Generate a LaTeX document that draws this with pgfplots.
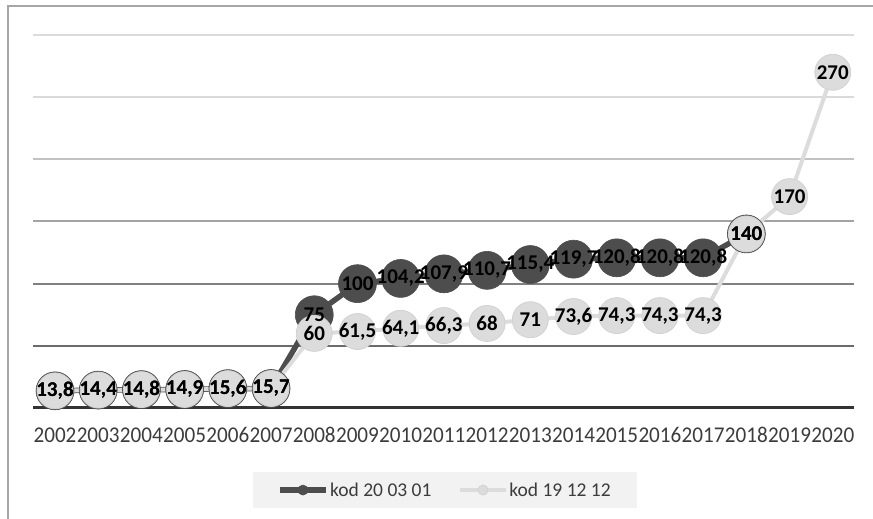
\documentclass[border=0pt]{standalone}
\usepackage{fontspec}
\setmainfont{Carlito}
\usepackage{pgfplots}
\usepackage{pgfplotstable}
\pgfplotsset{compat=1.18}

\definecolor{darkser}{HTML}{4D4D4D}
\definecolor{lightser}{HTML}{DCDCDC}
\definecolor{lightedge}{HTML}{D2D2D2}
\definecolor{axisdark}{HTML}{333333}
\definecolor{labelgray}{HTML}{3C3C3C}
\definecolor{framegray}{HTML}{A6A6A6}

% kod 20 03 01
\pgfplotstableread{
year val
2002 13.8
2003 14.4
2004 14.8
2005 14.9
2006 15.6
2007 15.7
2008 75
2009 100
2010 104.2
2011 107.9
2012 110.7
2013 115.4
2014 119.7
2015 120.8
2016 120.8
2017 120.8
2018 140
}\kodA

% kod 19 12 12
\pgfplotstableread{
year val
2002 13.8
2003 14.4
2004 14.8
2005 14.9
2006 15.6
2007 15.7
2008 60
2009 61.5
2010 64.1
2011 66.3
2012 68
2013 71
2014 73.6
2015 74.3
2016 74.3
2017 74.3
2018 140
2019 170
2020 270
}\kodB

\begin{document}
\begin{tikzpicture}[x=1pt,y=1pt]
\path[use as bounding box] (0,0) rectangle (873,519);
\draw[framegray, line width=2pt] (8,0) -- (8,513) -- (873,513);
\begin{axis}[
  at={(33.4pt,111pt)}, anchor=south west,
  scale only axis, width=821pt, height=373pt,
  xmin=2001.5, xmax=2020.5, ymin=0, ymax=300,
  clip=false,
  axis x line=bottom, axis y line=none,
  x axis line style={-, line width=3pt, color=axisdark},
  xtick={2002,2003,...,2020},
  xticklabels={2002,2003,2004,2005,2006,2007,2008,2009,2010,2011,2012,2013,2014,2015,2016,2017,2018,2019,2020},
  major tick length=0pt,
  xticklabel style={font=\fontsize{22.5}{25}\selectfont, text=labelgray, xscale=0.94, yshift=-16pt},
  /pgf/number format/.cd, use comma, 1000 sep={}, assume math mode=true,
  /pgfplots/.cd,
  legend columns=2,
  legend cell align=left,
  legend style={at={(0.501,-0.22)}, anchor=center, fill=black!5, draw=none,
    font=\fontsize{19.5}{22}\selectfont, text=labelgray,
    inner xsep=24.5pt, inner ysep=9pt,
    nodes={inner sep=1.5pt},
    /tikz/every even column/.append style={column sep=25pt}},
  legend image code/.code={\draw[#1, mark size=5pt, mark repeat=2, mark phase=2]
    plot coordinates {(0pt,0pt) (23pt,0pt) (46pt,0pt)};},
  datalabel/.style={draw=none, mark=none, forget plot,
    nodes near coords,
    every node near coord/.append style={anchor=center, text=black,
      font=\bfseries\fontsize{21}{23}\selectfont}},
]
% horizontal grid, shaded from dark (low) to light (high)
\addplot[black!58, line width=2pt, forget plot] coordinates {(2001.5,50) (2020.5,50)};
\addplot[black!50, line width=2pt, forget plot] coordinates {(2001.5,100) (2020.5,100)};
\addplot[black!36, line width=2pt, forget plot] coordinates {(2001.5,150) (2020.5,150)};
\addplot[black!24, line width=2pt, forget plot] coordinates {(2001.5,200) (2020.5,200)};
\addplot[black!15, line width=2pt, forget plot] coordinates {(2001.5,250) (2020.5,250)};
\addplot[black!14, line width=2pt, forget plot] coordinates {(2001.5,300) (2020.5,300)};

\addplot[darkser, line width=5.5pt, mark=*, mark size=19pt,
  mark options={solid, line width=0.6pt, fill=darkser, draw=darkser}]
  table[x=year, y=val] {\kodA};
\addlegendentry{kod 20 03 01}
\addplot[lightser, line width=4pt, mark=*, mark size=18pt,
  mark options={solid, line width=0.8pt, fill=lightser, draw=lightedge}]
  table[x=year, y=val] {\kodB};
\addlegendentry{kod 19 12 12}

% value labels on top of both series
\addplot[datalabel] table[x=year, y=val] {\kodB};
\addplot[datalabel] table[x=year, y=val] {\kodA};
\end{axis}
\end{tikzpicture}
\end{document}
